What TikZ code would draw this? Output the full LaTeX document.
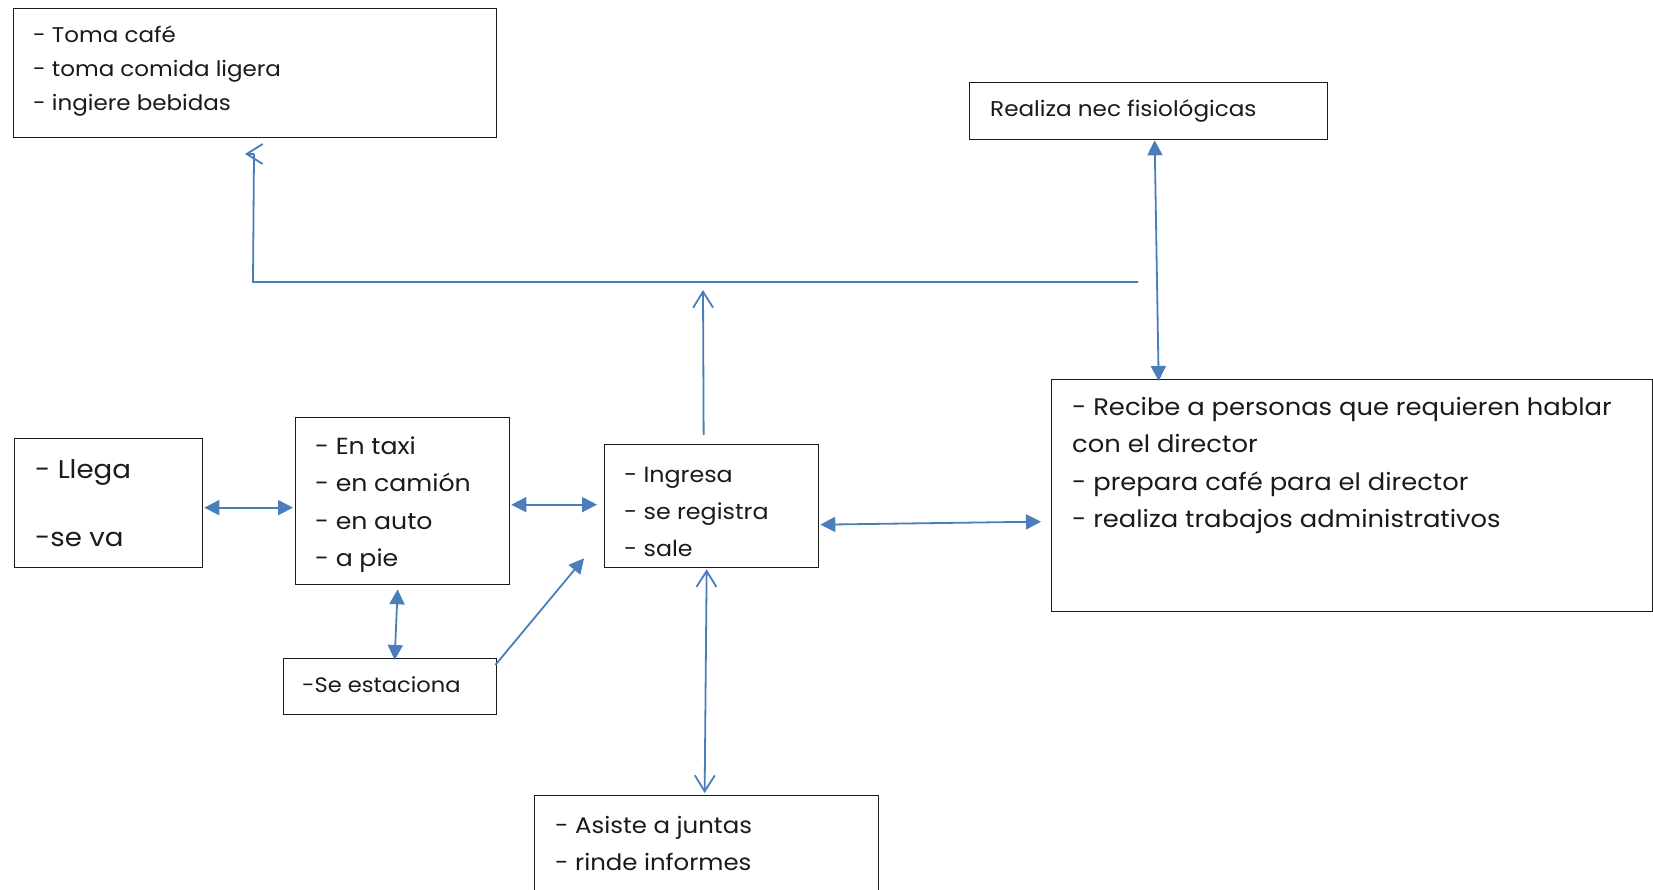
\documentclass[tikz,border=0pt]{standalone}
\usepackage{fontspec}
\setmainfont{Poppins}[FakeStretch=1.08]
\usetikzlibrary{arrows.meta,calc}
\definecolor{linkblue}{RGB}{74,126,187}
\definecolor{ink}{RGB}{26,26,26}
\newcommand\fs[2]{\fontsize{#1}{#2}\selectfont}
\newcommand\lines[2]{\parbox[t]{700pt}{#1\raggedright #2}}
\begin{document}
\begin{tikzpicture}[x=1pt,y=-1pt,
  box/.style={draw=ink,line width=1.3pt,rectangle,inner sep=0pt,anchor=north west},
  txt/.style={inner sep=0pt,anchor=base west,text=ink},
  link/.style={draw=linkblue,line width=1.8pt},
  dbl/.style={link,{Triangle[length=15pt,width=15pt]}-{Triangle[length=15pt,width=15pt]}},
  sgl/.style={link,-{Triangle[length=15pt,width=15pt]}},
  barbs/.style={link,{Straight Barb[length=16pt,width=20pt]}-{Straight Barb[length=16pt,width=20pt]}},
  barb/.style={link,-{Straight Barb[length=16pt,width=20pt]}}]
\clip (0,0) rectangle (1653,890);
\fill[white] (0,0) rectangle (1653,890);

% boxes
\node[box,minimum width=483pt,minimum height=129pt] (toma) at (13,8) {};
\node[box,minimum width=358pt,minimum height=57pt] (realiza) at (969,82) {};
\node[box,minimum width=188pt,minimum height=129pt] (llega) at (14,438) {};
\node[box,minimum width=214pt,minimum height=167pt] (taxi) at (295,417) {};
\node[box,minimum width=214pt,minimum height=123pt] (ingresa) at (604,444) {};
\node[box,minimum width=601pt,minimum height=232pt] (recibe) at (1051,379) {};
\node[box,minimum width=213pt,minimum height=56pt] (estaciona) at (283,658) {};
\node[box,minimum width=344pt,minimum height=160pt] (asiste) at (534,795) {};

% texts
\node[txt] (tomaT) at (33,43) {\lines{\fs{21.3}{33.7}}{- Toma café\\- toma comida ligera\\- ingiere bebidas}};
\node[txt] (realizaT) at (990,117) {\fs{21.4}{30}Realiza nec fisiológicas};
\node[txt] (llegaT) at (35,478) {\lines{\fs{25.6}{68}}{- Llega\\-se va}};
\node[txt] (taxiT) at (315,454) {\lines{\fs{23.3}{37.6}}{- En taxi\\- en camión\\- en auto\\- a pie}};
\node[txt] (ingresaT) at (624,482) {\lines{\fs{22}{37.4}}{- Ingresa\\- se registra\\- sale}};
\node[txt] (recibeT) at (1072,415) {\lines{\fs{23.9}{37.6}}{- Recibe a personas que requieren hablar\\con el director\\- prepara café para el director\\- realiza trabajos administrativos}};
\node[txt] (estacionaT) at (302,692) {\fs{20.9}{30}-Se estaciona};
\node[txt] (asisteT) at (555,833) {\lines{\fs{22.6}{37.2}}{- Asiste a juntas\\- rinde informes}};

% free ends of the branch above the centre box
\coordinate (hR) at (1138,282);
\coordinate (hL) at (253,282);
\coordinate (tomaIn) at (254,154);
\coordinate (tomaTip) at (245,154);
\coordinate (upTip) at (703,290);

% connectors
\draw[dbl] ([shift={(1,4.5)}]llega.east) -- ([shift={(-2,6.5)}]taxi.west);
\draw[dbl] ([shift={(1,3.5)}]taxi.east) -- ([shift={(-7,-1.5)}]ingresa.west);
\draw[dbl] ([shift={(1,18.5)}]ingresa.east) -- ([shift={(-10,26)}]recibe.west);
\draw[dbl] ([shift={(-5,4)}]taxi.south) -- ([shift={(4.5,2)}]estaciona.north);
\draw[sgl] ([shift={(-2,7)}]estaciona.north east) -- ([shift={(-20,-10)}]ingresa.south west);
\draw[dbl] ([shift={(6,0)}]realiza.south) -- ([shift={(-193.5,2)}]recibe.north);
\draw[barbs] ([shift={(-5,1)}]ingresa.south) -- ([shift={(-2,-2)}]asiste.north);
\draw[barb] ([shift={(-8,-9)}]ingresa.north) -- (upTip);
\draw[link] (hR) -- (hL) -- (tomaIn);
\draw[link,-{Straight Barb[length=16pt,width=20pt]}] (tomaIn) -- (tomaTip);
\end{tikzpicture}
\end{document}
